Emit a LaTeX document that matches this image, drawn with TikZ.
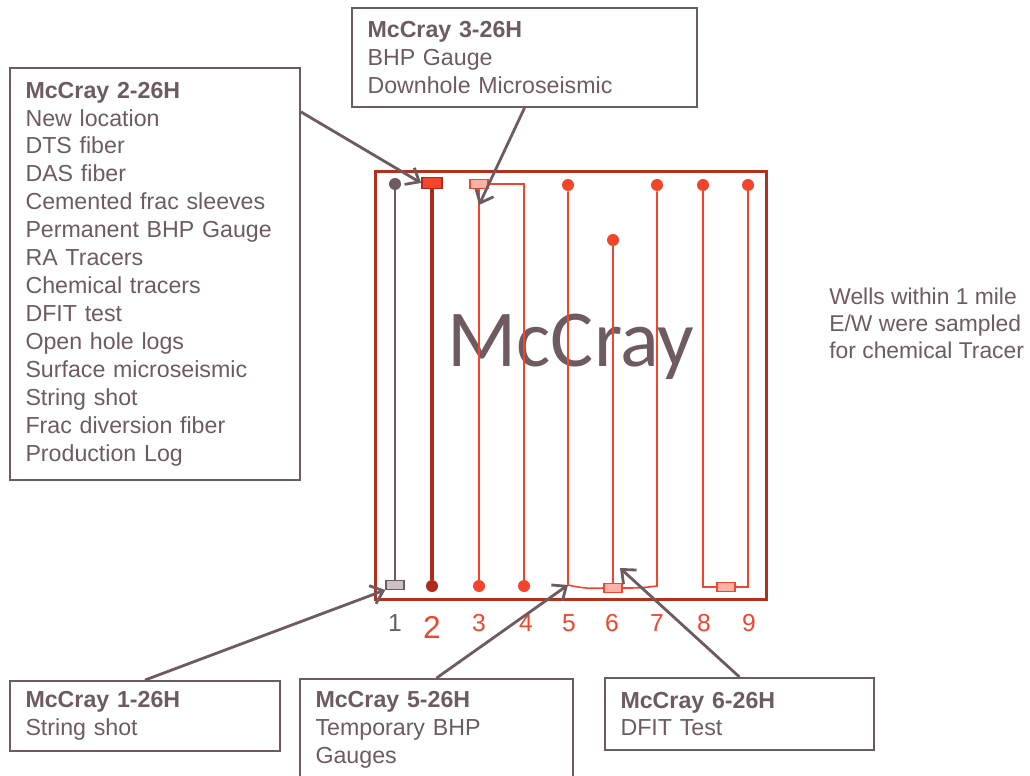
\documentclass[tikz,border=0pt]{standalone}
\usepackage{fontspec}
\setmainfont{Liberation Sans}
\newfontfamily\titlefont{Carlito}
\definecolor{mauve}{HTML}{6D5B60}
\definecolor{leasered}{HTML}{B3301C}
\definecolor{wellred}{HTML}{F2452B}
\definecolor{darkwell}{HTML}{B0291A}
\definecolor{pinkfill}{HTML}{F9B2A8}
\definecolor{gaugegray}{HTML}{CBC2C4}
\usetikzlibrary{positioning,arrows.meta}

\begin{document}
\begin{tikzpicture}[x=0.02cm, y=-0.02cm,
    note/.style={rectangle, draw=mauve, line width=1.1pt, text=mauve,
                 align=left, inner xsep=0.31cm, inner ysep=0pt,
                 font=\fontsize{13.2pt}{15.9pt}\selectfont},
    dot/.style={circle, inner sep=0pt, minimum size=0.24cm},
    gauge/.style={rectangle, inner sep=0pt, minimum width=0.36cm,
                  minimum height=0.17cm, line width=0.8pt},
    well/.style={wellred, line width=0.9pt},
    num/.style={text=wellred, font=\fontsize{14pt}{16pt}\selectfont},
    callout/.style={-{Straight Barb[length=6.5pt,width=11pt]}, mauve, line width=1.6pt}
  ]
    \useasboundingbox (0,0) rectangle (1030,776);

    % lease outline and name
    \node[text=mauve, font=\titlefont\fontsize{46pt}{50pt}\selectfont, anchor=base]
      (title) at (571,367) {McCray};
    \node[draw=leasered, line width=1.7pt, minimum width=7.84cm,
          minimum height=8.58cm] (lease) at (571,385.5) {};

    % well 1
    \node[dot, fill=mauve] (top1) at (395,184) {};
    \node[gauge, draw=mauve, fill=gaugegray] (gauge1) at (395,585) {};
    \draw[mauve, line width=0.9pt] (top1) -- (gauge1);

    % well 2
    \node[gauge, draw=darkwell, fill=wellred, minimum width=0.4cm,
          minimum height=0.22cm, line width=1pt] (cap2) at (432,183) {};
    \node[dot, fill=darkwell] (bot2) at (432,586) {};
    \draw[darkwell, line width=2pt] (cap2) -- (bot2);

    % wells 3 and 4
    \node[gauge, draw=wellred, fill=pinkfill] (cap3) at (479,184) {};
    \node[dot, fill=wellred] (bot3) at (479,586) {};
    \node[dot, fill=wellred] (bot4) at (524,586) {};
    \coordinate (hit3) at (479,205);
    \draw[well] (cap3) -- (bot3);
    \draw[well] (cap3.east) -| (bot4);

    % wells 5, 6 and 7
    \node[dot, fill=wellred] (top5) at (568,185) {};
    \node[dot, fill=wellred] (top6) at (613,240) {};
    \node[dot, fill=wellred] (top7) at (657,185) {};
    \node[gauge, draw=wellred, fill=pinkfill] (gauge6) at (613,588) {};
    \coordinate (bot5) at (568,585);
    \coordinate (bot7) at (657,586);
    \coordinate (tip6) at (620,568);
    \draw[well] (top5) -- (bot5) to[bend right=8] (gauge6.west);
    \draw[well] (gauge6.east) to[bend right=4] (bot7) -- (top7);
    \draw[well] (top6) -- (gauge6);

    % wells 8 and 9
    \node[dot, fill=wellred] (top8) at (703,185) {};
    \node[dot, fill=wellred] (top9) at (748,185) {};
    \node[gauge, draw=wellred, fill=pinkfill] (gauge8) at (726,587) {};
    \draw[well] (top8) |- (gauge8.west);
    \draw[well] (gauge8.east) -| (top9);

    % well numbers
    \node[num, text=mauve] (n1) at (395,623) {1};
    \node[num, font=\fontsize{18pt}{20pt}\selectfont] (n2) at (432,627) {2};
    \node[num] (n3) at (479,623) {3};
    \node[num] (n4) at (526,623) {4};
    \node[num] (n5) at (569,623) {5};
    \node[num] (n6) at (612,623) {6};
    \node[num] (n7) at (657,623) {7};
    \node[num] (n8) at (704,623) {8};
    \node[num] (n9) at (749,623) {9};

    % notes
    \node[note, text width=5.18cm, minimum height=8.24cm] (note2) at (155,274)
      {\textbf{McCray 2-26H}\\ New location\\ DTS fiber\\ DAS fiber\\
       Cemented frac sleeves\\ Permanent BHP Gauge\\ RA Tracers\\
       Chemical tracers\\ DFIT test\\ Open hole logs\\ Surface microseismic\\
       String shot\\ Frac diversion fiber\\ Production Log};
    \node[note, text width=6.28cm, minimum height=1.98cm] (note3) at (524.5,57.5)
      {\textbf{McCray 3-26H}\\ BHP Gauge\\ Downhole Microseismic};
    \node[note, text width=4.78cm, minimum height=1.4cm] (note1) at (145,716)
      {\textbf{McCray 1-26H}\\ String shot};
    \node[note, text width=4.84cm, minimum height=2.04cm] (note5) at (436.5,730)
      {\textbf{McCray 5-26H}\\ Temporary BHP\\ Gauges};
    \node[note, text width=4.76cm, minimum height=1.44cm] (note6) at (739.5,714)
      {\textbf{McCray 6-26H}\\ DFIT Test};
    \node[text=mauve, align=left, inner sep=0pt, anchor=west,
          font=\fontsize{13pt}{15.3pt}\selectfont] (remark) at (829,323)
      {Wells within 1 mile\\ E/W were sampled\\ for chemical Tracer};

    % callouts
    \draw[callout] (note2.48) -- (cap2.west);
    \draw[callout] (note3.south) -- (hit3);
    \draw[callout] (note1.north) -- (gauge1.south west);
    \draw[callout] (note5.north) -- (bot5);
    \draw[callout] (note6.north) -- (tip6);
\end{tikzpicture}
\end{document}
